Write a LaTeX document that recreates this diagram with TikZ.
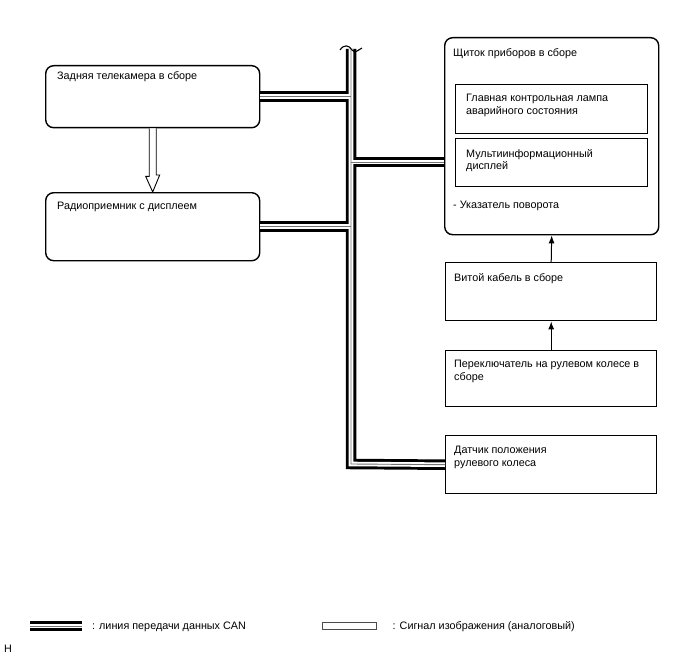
\documentclass[tikz,border=0pt]{standalone}
\usepackage{fontspec}
\setmainfont{Liberation Sans}
\usetikzlibrary{positioning, arrows.meta, calc}
\tikzset{
  unit/.style={draw, line width=1.4, rounded corners=8, minimum width=214, anchor=north west, inner sep=0},
  block/.style={draw, line width=1.4, minimum width=211, anchor=north west, inner sep=0},
  lbl/.style={anchor=north west, inner sep=0, align=left, font=\fontsize{10.8}{12.5}\selectfont},
  canouter/.style={line width=10.5, black},
  caninner/.style={line width=4.6, white},
  cancore/.style={line width=0.9, black!55},
  sig/.style={-{Latex[length=8,width=6]}, line width=1},
}

\begin{document}
\begin{tikzpicture}[x=1pt, y=-1pt]
    \useasboundingbox (0,0) rectangle (688,658);
    % boxes
    \node[unit, minimum height=62] (cam) at (45,65) {};
    \node[unit, minimum height=68] (radio) at (45,192) {};
    \node[unit, minimum height=197] (ic) at (444,37) {};
    \node[block, minimum width=192, minimum height=49] (lamp) at (455,84) {};
    \node[block, minimum width=192, minimum height=48] (mid) at (455,138) {};
    \node[block, minimum height=58] (spiral) at (445,262) {};
    \node[block, minimum height=56] (switch) at (445,350) {};
    \node[block, minimum height=58] (sensor) at (445,435) {};
    % texts
    \node[lbl] (camtxt) at ($(cam.north west)+(12,6)$) {Задняя телекамера в сборе};
    \node[lbl] (radiotxt) at ($(radio.north west)+(12,10)$) {Радиоприемник с дисплеем};
    \node[lbl] (ictxt) at ($(ic.north west)+(9,11)$) {Щиток приборов в сборе};
    \node[lbl] (lamptxt) at ($(lamp.north west)+(11,10)$) {Главная контрольная лампа\\аварийного состояния};
    \node[lbl] (midtxt) at ($(mid.north west)+(11,11)$) {Мультиинформационный\\дисплей};
    \node[lbl] (turntxt) at ($(ic.north west)+(9,164)$) {- Указатель поворота};
    \node[lbl] (spiraltxt) at ($(spiral.north west)+(9,11)$) {Витой кабель в сборе};
    \node[lbl] (switchtxt) at ($(switch.north west)+(9,10)$) {Переключатель на рулевом колесе в\\сборе};
    \node[lbl] (sensortxt) at ($(sensor.north west)+(9,11)$) {Датчик положения\\рулевого колеса};
    % CAN bus
    \coordinate (bustop) at (351,49);
    \coordinate (busbot) at (351,464);
    \coordinate (icjoin) at (351,162);
    \coordinate (canA) at (30,626);
    \coordinate (canB) at (82,626);
    \foreach \st in {canouter, caninner, cancore} {
        \draw[\st] (bustop) -- (busbot) -- (sensor.west);
        \draw[\st] (cam.east) -- (cam.east -| bustop);
        \draw[\st] (radio.east) -- (radio.east -| bustop);
        \draw[\st] (icjoin) -- (icjoin -| ic.west);
        \draw[\st] (canA) -- (canB);
    }
    \draw[line width=1.1] ($(bustop)+(-11,1)$) .. controls ++(4,-6) and ++(-3,-5) .. ++(12,0)
        .. controls ++(3,4) and ++(-4,2) .. ++(10,-2);
    % image signal
    \draw[line width=0.9, fill=white] ($(cam.south)+(-3.5,0)$) -- ++(0,48) -- ++(-3.5,0)
        -- (radio.north) -- ++(7,-17) -- ++(-3.5,0) -- ($(cam.south)+(3.5,0)$);
    % switch signals
    \draw[sig] (spiral.north) -- (ic.south);
    \draw[sig] (switch.north) -- (spiral.south);
    % legend
    \node[lbl, anchor=west] (cantxt) at ($(canB)+(10,1)$) {: линия передачи данных CAN};
    \node[draw=black!70, line width=1, minimum width=54, minimum height=7, inner sep=0] (sigkey) at (349,625.5) {};
    \node[lbl, anchor=west] (sigtxt) at ($(sigkey.east)+(16,1.5)$) {: Сигнал изображения (аналоговый)};
    \node[lbl, anchor=west] (mark) at (4,649) {H};
\end{tikzpicture}
\end{document}
